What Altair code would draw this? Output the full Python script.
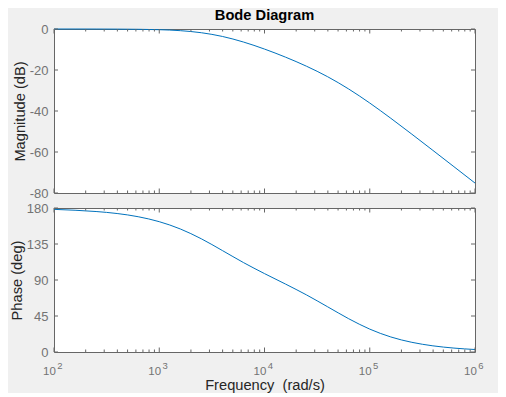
import altair as alt
import pandas as pd

# ---- data ----
freq = [100, 158.5, 251.2, 398.1, 631.0, 1000, 1585, 2512, 3981, 6310, 10000,
        15849, 25119, 39811, 63096, 100000, 158489, 251189, 398107, 630957, 1000000]
mag_db = [0.0, 0.0, -0.02, -0.06, -0.14, -0.34, -0.81, -1.82, -3.63, -6.35, -9.79,
          -13.74, -18.18, -23.28, -29.27, -36.11, -43.55, -51.31, -59.21, -67.17, -75.15]
phase_deg = [178.3, 177.2, 175.6, 173.1, 169.1, 162.9, 153.8, 141.5, 126.8, 111.8, 98.0,
             84.9, 71.3, 56.5, 41.6, 28.6, 18.8, 12.1, 7.7, 4.9, 3.1]

major_x = [100, 1000, 10000, 100000, 1000000]
x_base = ["10", "10", "10", "10", "10"]
x_exp = ["2", "3", "4", "5", "6"]
minor_x = [m * 10 ** e for e in range(2, 6) for m in range(2, 10)]
mag_ticks = [0, -20, -40, -60, -80]
phase_ticks = [0, 45, 90, 135, 180]

# ---- style ----
FONT = "Liberation Sans"
BOX = "#666666"
LBL = "#737373"
TTL = "#262626"
LINE = "#0072BD"
W, H1, H2 = 421, 164, 144

df = pd.DataFrame({"freq": freq, "mag": mag_db, "phase": phase_deg})
xs = alt.Scale(type="log", domain=[100, 1000000], nice=False)
ys1 = alt.Scale(domain=[-80, 0], nice=False)
ys2 = alt.Scale(domain=[0, 180], nice=False)

yaxis_common = dict(ticks=False, domain=False, grid=False, labelColor=LBL,
                    labelFontSize=13, labelFont=FONT, labelPadding=6,
                    labelOverlap=False, labelExpr="toString(datum.value)",
                    titleFont=FONT, titleFontSize=14.67,
                    titleFontWeight="normal", titleColor=TTL, titlePadding=2)
ax_mag = alt.Axis(values=mag_ticks, title="Magnitude (dB)", **yaxis_common)
ax_phase = alt.Axis(values=phase_ticks, title="Phase (deg)", **yaxis_common)
ax_freq = alt.Axis(labels=False, ticks=False, domain=False, grid=False,
                   title="Frequency\u00a0 (rad/s)", titleFont=FONT,
                   titleFontSize=14.67, titleFontWeight="normal",
                   titleColor=TTL, titlePadding=25)


def xticks(H, vals, length, xax):
    d = pd.DataFrame({"freq": vals})
    bot = alt.Chart(d).mark_rule(color=BOX, strokeWidth=1).encode(
        x=alt.X("freq:Q", scale=xs, axis=xax), y=alt.value(H - length), y2=alt.value(H))
    top = alt.Chart(d).mark_rule(color=BOX, strokeWidth=1).encode(
        x=alt.X("freq:Q", scale=xs, axis=xax), y=alt.value(0), y2=alt.value(length))
    return [bot, top]


def yticks(field, vals, ys, yax):
    d = pd.DataFrame({field: vals})
    left = alt.Chart(d).mark_rule(color=BOX, strokeWidth=1).encode(
        y=alt.Y(f"{field}:Q", scale=ys, axis=yax), x=alt.value(0), x2=alt.value(4))
    right = alt.Chart(d).mark_rule(color=BOX, strokeWidth=1).encode(
        y=alt.Y(f"{field}:Q", scale=ys, axis=yax), x=alt.value(W - 4), x2=alt.value(W))
    return [left, right]


mag_line = alt.Chart(df).mark_line(color=LINE, strokeWidth=1, interpolate="monotone").encode(
    x=alt.X("freq:Q", scale=xs, axis=None),
    y=alt.Y("mag:Q", scale=ys1, axis=ax_mag),
)

top = alt.layer(
    mag_line,
    *xticks(H1, major_x, 4.5, None),
    *xticks(H1, minor_x, 2.5, None),
    *yticks("mag", mag_ticks, ys1, ax_mag),
).properties(
    width=W, height=H1,
    title=alt.TitleParams("Bode Diagram", font=FONT, fontSize=14.67, fontWeight="bold",
                          color="black", frame="group", anchor="middle", offset=0.5),
)

phase_line = alt.Chart(df).mark_line(color=LINE, strokeWidth=1, interpolate="monotone").encode(
    x=alt.X("freq:Q", scale=xs, axis=ax_freq),
    y=alt.Y("phase:Q", scale=ys2, axis=ax_phase),
)

lab = pd.DataFrame({"freq": major_x, "base": x_base, "exp": x_exp})
base_txt = alt.Chart(lab).mark_text(font=FONT, fontSize=11.5, color=LBL,
                                    baseline="alphabetic", align="center", dx=-4.5).encode(
    x=alt.X("freq:Q", scale=xs, axis=ax_freq), y=alt.value(H2 + 22.5), text="base:N")
exp_txt = alt.Chart(lab).mark_text(font=FONT, fontSize=9.5, color=LBL,
                                   baseline="alphabetic", align="center", dx=5.8).encode(
    x=alt.X("freq:Q", scale=xs, axis=ax_freq), y=alt.value(H2 + 16.5), text="exp:N")

bottom = alt.layer(
    phase_line,
    *xticks(H2, major_x, 4.5, ax_freq),
    *xticks(H2, minor_x, 2.5, ax_freq),
    *yticks("phase", phase_ticks, ys2, ax_phase),
    base_txt, exp_txt,
).properties(width=W, height=H2)

chart = alt.vconcat(top, bottom, spacing=0).properties(
    background="#f0f0f0",
    padding={"left": 0, "top": -1, "right": 14, "bottom": 0},
).configure_view(stroke=BOX, strokeWidth=1, fill="white")

chart.save("out.html", embed_options={"renderer": "svg", "actions": False})
